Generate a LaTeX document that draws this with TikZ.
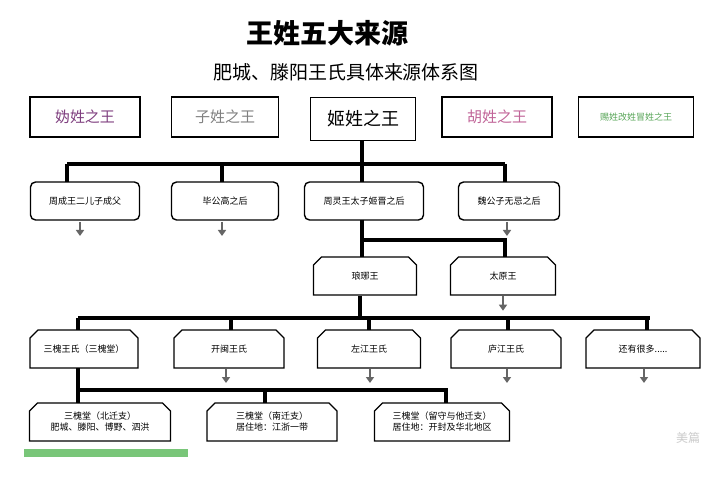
\documentclass[tikz,border=0pt]{standalone}
\usepackage{fontspec}
\setmainfont{Noto Sans CJK SC}
\usetikzlibrary{arrows.meta,shapes.misc}
\begin{document}
\begin{tikzpicture}[x=1pt,y=-1pt,
  topbox/.style={draw,line width=1.6pt,minimum height=40pt,font=\fontsize{15}{15}\selectfont},
  rbox/.style={draw,line width=1.4pt,rounded corners=5pt,minimum height=38pt,font=\fontsize{9}{9}\selectfont},
  cbox/.style={draw,line width=1.4pt,minimum height=38pt,font=\fontsize{9}{11}\selectfont,align=center,
    chamfered rectangle, chamfered rectangle corners={north west,north east},chamfered rectangle xsep=4pt,chamfered rectangle ysep=4pt},
  link/.style={line width=3.2pt,black},
  dn/.style={-{Triangle[length=6pt,width=8pt]},line width=2.6pt,gray!80!black}]
\useasboundingbox (0,0) rectangle (724,500);
\fill[white] (0,0) rectangle (724,500);
\node (t1) at (327,33) {\fontsize{27}{27}\selectfont\bfseries 王姓五大来源};
\node (t2) at (346,72) {\fontsize{19}{19}\selectfont 肥城、滕阳王氏具体来源体系图};
% top row
\node[topbox,minimum width=110pt,text=violet!50!gray] (a1) at (85,117) {妫姓之王};
\node[topbox,minimum width=107pt,text=gray] (a2) at (225,117) {子姓之王};
\node[topbox,minimum width=105pt,minimum height=43pt,font=\fontsize{18}{18}\selectfont] (a3) at (363,119) {姬姓之王};
\node[topbox,minimum width=110pt,text=magenta!50!gray] (a4) at (497,117) {胡姓之王};
\node[topbox,minimum width=115pt,text=green!30!gray,font=\fontsize{9}{9}\selectfont] (a5) at (636,117) {赐姓改姓冒姓之王};
% row2
\node[rbox,minimum width=109pt] (b1) at (85,201) {周成王二儿子成父};
\node[rbox,minimum width=107pt] (b2) at (225,201) {毕公高之后};
\node[rbox,minimum width=119pt] (b3) at (364,201) {周灵王太子姬晋之后};
\node[rbox,minimum width=101pt] (b4) at (509,201) {魏公子无忌之后};
\coordinate (j1) at (362,164);
\draw[link] (a3.south -| j1) -- (j1);
\draw[link] (67,164) -- (505,164);
\foreach \n/\x in {b1/67,b2/222,b3/362,b4/505}{\draw[link] (\x,164) -- (\x,182);}
\draw[dn] (80,222) -- (80,236);
\draw[dn] (222,222) -- (222,236);
\draw[dn] (507,222) -- (507,236);
% row3
\node[cbox,minimum width=103pt] (c1) at (365,276) {琅琊王};
\node[cbox,minimum width=105pt] (c2) at (503,276) {太原王};
\draw[link] (362,220) -- (362,240) -- (505,240) -- (505,257);
\draw[link] (362,240) -- (362,257);
\draw[dn] (c2.south) -- +(0,15);
% row4
\node[cbox,minimum width=108pt] (d1) at (84,349) {三槐王氏（三槐堂）};
\node[cbox,minimum width=110pt] (d2) at (229,349) {开闽王氏};
\node[cbox,minimum width=103pt] (d3) at (369,349) {左江王氏};
\node[cbox,minimum width=110pt] (d4) at (506,349) {庐江王氏};
\node[cbox,minimum width=114pt] (d5) at (643,349) {还有很多.....};
\draw[link] (c1.south -| 360,0) -- (360,318);
\draw[link] (78,318) -- (650,318);
\foreach \x in {78,231,369,508,647}{\draw[link] (\x,318) -- (\x,330);}
\foreach \x in {226,370,507,644}{\draw[dn] (\x,369) -- (\x,383);}
% row5
\node[cbox,minimum width=141pt] (e1) at (100,422) {三槐堂（北迁支）\\肥城、滕阳、博野、泗洪};
\node[cbox,minimum width=130pt] (e2) at (272,422) {三槐堂（南迁支）\\居住地：江浙一带};
\node[cbox,minimum width=135pt] (e3) at (442,422) {三槐堂（留守与他迁支）\\居住地：开封及华北地区};
\draw[link] (78,368) -- (78,390) -- (446,390) -- (446,403);
\draw[link] (78,390) -- (78,403);
\draw[link] (265,390) -- (265,403);
\fill[green!40!gray!75] (24,449) rectangle (188,457);
\node[text=gray!40,font=\fontsize{12}{12}\selectfont] (wm) at (688,438) {美篇};
\end{tikzpicture}
\end{document}
